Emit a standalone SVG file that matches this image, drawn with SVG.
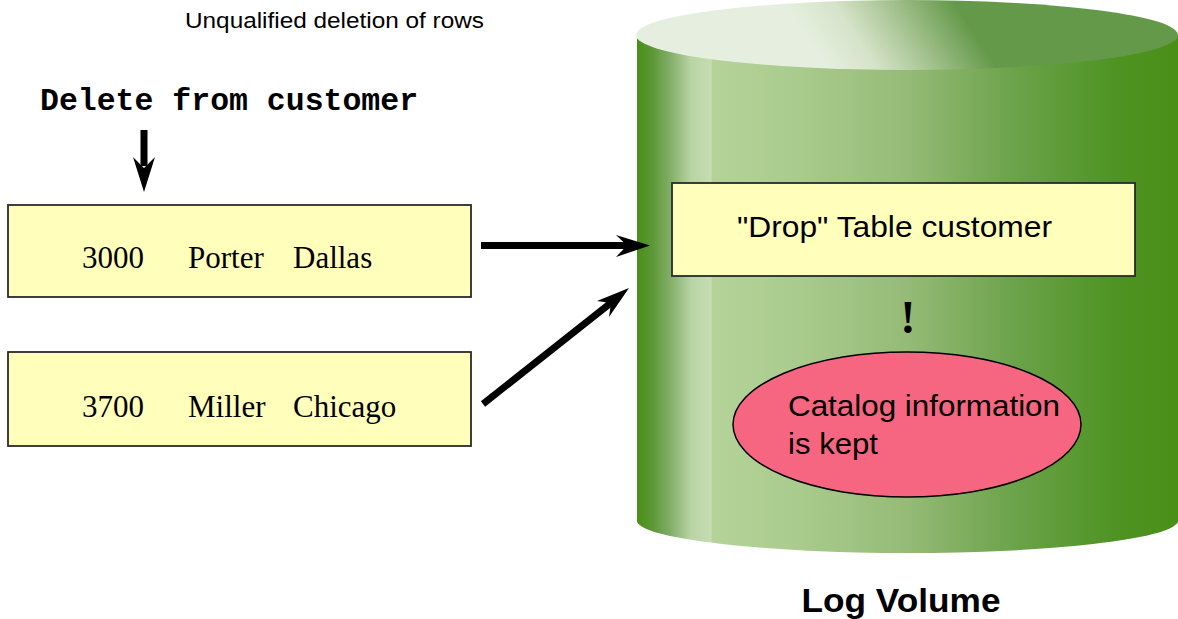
<svg xmlns="http://www.w3.org/2000/svg" width="1178" height="619" viewBox="0 0 1178 619">
<defs>
<linearGradient id="body" gradientUnits="userSpaceOnUse" x1="637" y1="0" x2="1178" y2="0">
<stop offset="0" stop-color="#4a8f17"/>
<stop offset="0.03" stop-color="#5e9838"/>
<stop offset="0.06" stop-color="#80ad66"/>
<stop offset="0.1" stop-color="#b9d4a4"/>
<stop offset="0.137" stop-color="#c6dcb2"/>
<stop offset="0.139" stop-color="#b5d399"/>
<stop offset="0.3" stop-color="#a9cb8d"/>
<stop offset="0.5" stop-color="#95bb77"/>
<stop offset="0.7" stop-color="#6ba24a"/>
<stop offset="0.88" stop-color="#4f9423"/>
<stop offset="1" stop-color="#4a8f17"/>
</linearGradient>
<linearGradient id="top" gradientUnits="userSpaceOnUse" x1="830" y1="74" x2="950" y2="-4">
<stop offset="0" stop-color="#e6efdf"/>
<stop offset="0.3" stop-color="#d5e3c9"/>
<stop offset="0.65" stop-color="#a0bf8a"/>
<stop offset="1" stop-color="#64994a"/>
</linearGradient>
</defs>
<style>
.row{fill:#ffffbb;stroke:#2a2a2a;stroke-width:1.8}
.serif{font-family:"Liberation Serif","Times New Roman",serif;font-size:31px;fill:#000}
.sans{font-family:"Liberation Sans",Arial,sans-serif;fill:#000}
.mono{font-family:"Liberation Mono","Courier New",monospace;font-weight:bold;font-size:31.5px;fill:#000}
.shaft{stroke:#000;stroke-width:7;fill:none}
.head{fill:#000}
</style>
<rect width="1178" height="619" fill="#ffffff"/>

<g id="title">
<text class="sans" x="185" y="28" font-size="22" textLength="299" lengthAdjust="spacingAndGlyphs">Unqualified deletion of rows</text>
</g>

<g id="statement">
<text class="mono" x="40" y="110">Delete from customer</text>
</g>

<g id="log-volume">
<path d="M637,35 L637,522 A271,33 0 0 0 1178,522 L1178,35 Z" fill="url(#body)"/>
<ellipse cx="907" cy="35" rx="271" ry="35" fill="url(#top)"/>
<text class="sans" x="901" y="612" font-size="34" font-weight="bold" text-anchor="middle" textLength="199" lengthAdjust="spacingAndGlyphs">Log Volume</text>
</g>

<g id="row-3000">
<rect class="row" x="8" y="205" width="463" height="92"/>
<text class="serif" x="82" y="268">3000</text>
<text class="serif" x="188" y="268">Porter</text>
<text class="serif" x="293" y="268">Dallas</text>
</g>

<g id="row-3700">
<rect class="row" x="8" y="352" width="463" height="94"/>
<text class="serif" x="82" y="417">3700</text>
<text class="serif" x="188" y="417">Miller</text>
<text class="serif" x="293" y="417">Chicago</text>
</g>

<g id="drop-table">
<rect class="row" x="672" y="183" width="463" height="93"/>
<text class="sans" x="737" y="237" font-size="29" textLength="315" lengthAdjust="spacingAndGlyphs">"Drop" Table customer</text>
</g>

<g id="exclamation">
<text x="908" y="333" font-family="Liberation Serif, serif" font-weight="bold" font-size="46" text-anchor="middle" fill="#000">!</text>
</g>

<g id="catalog-info">
<ellipse cx="907" cy="424.5" rx="174" ry="72.5" fill="#f66680" stroke="#000" stroke-width="1.5"/>
<text class="sans" x="788" y="416" font-size="29" textLength="272" lengthAdjust="spacingAndGlyphs">Catalog information</text>
<text class="sans" x="788" y="454" font-size="29" textLength="90" lengthAdjust="spacingAndGlyphs">is kept</text>
</g>

<g id="connectors">
<line class="shaft" x1="144" y1="130" x2="144" y2="166"/>
<polygon class="head" points="144,192 133,157 144,168 155,157"/>
<line class="shaft" x1="481" y1="245.5" x2="628" y2="245.5"/>
<polygon class="head" points="650,245.5 616,235 627,245.5 616,257"/>
<line class="shaft" x1="483" y1="404" x2="612" y2="302"/>
<polygon class="head" points="629,288 597,301 611,303 609,317"/>
</g>
</svg>
